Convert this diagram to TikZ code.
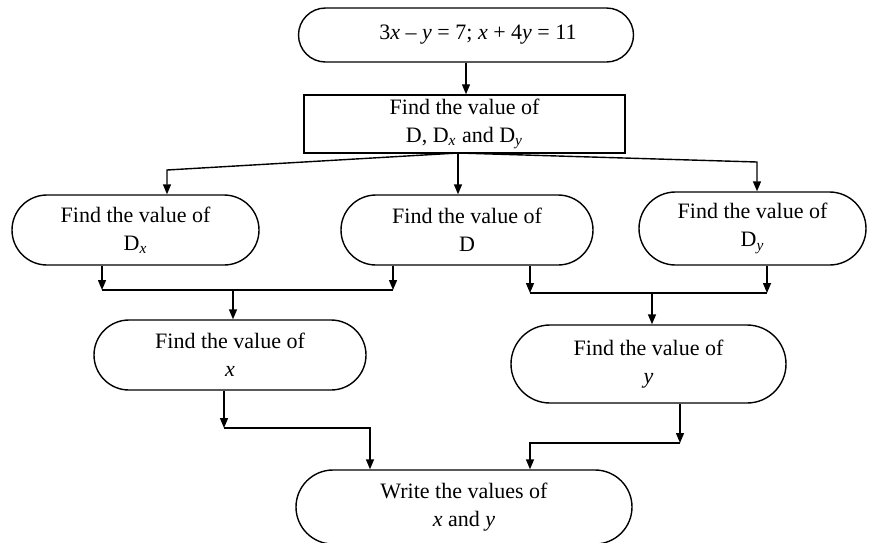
\documentclass[tikz,border=0pt]{standalone}
\usepackage{fontspec}
\setmainfont{Liberation Serif}
\usetikzlibrary{arrows.meta,shapes.misc}

\begin{document}
\begin{tikzpicture}[x=0.5pt, y=-0.5pt, line width=0.7pt,
	>={Triangle[length=5pt, width=4pt]},
	every node/.style={font=\fontsize{11}{14}\selectfont, align=center, inner sep=2pt},
	term/.style={draw, rounded rectangle},
	procbox/.style={draw, rectangle}]
	\useasboundingbox (0,0) rectangle (872,542);
	% nodes
	\node[term, minimum width=171.5pt, minimum height=27pt] (eqn) at (466,35)
		{\hspace*{12pt}3\textit{x} – \textit{y} = 7; \textit{x} + 4\textit{y} = 11};
	\node[procbox, minimum width=160.5pt, minimum height=29pt] (calc) at (464.5,124)
		{Find the value of\\ D, D\textsubscript{\textit{x}} and D\textsubscript{\textit{y}}};
	\node[term, minimum width=127.5pt, minimum height=35pt] (dx) at (135.5,230)
		{Find the value of\\ D\textsubscript{\textit{x}}};
	\node[term, minimum width=130pt, minimum height=35pt] (dd) at (467,230)
		{Find the value of\\ D};
	\node[term, minimum width=117.5pt, minimum height=36.5pt] (dy) at (752.5,228.5)
		{Find the value of\\ D\textsubscript{\textit{y}}};
	\node[term, minimum width=140pt, minimum height=35pt] (xv) at (230,355)
		{Find the value of\\ \textit{x}};
	\node[term, minimum width=141.5pt, minimum height=39pt] (yv) at (648.5,364)
		{Find the value of\\ \textit{y}};
	\node[term, minimum width=172pt, minimum height=37pt] (out) at (464,507)
		{Write the values of\\ \textit{x} and \textit{y}};
	% junction points
	\coordinate (fork) at (458,153);
	\coordinate (lbend) at (167,170);
	\coordinate (rbend) at (757,162);
	\coordinate (jl) at (102,290);
	\coordinate (jm) at (393,290);
	\coordinate (jx) at (233,290);
	\coordinate (jr1) at (530,293);
	\coordinate (jr2) at (767,293);
	\coordinate (jy) at (652,293);
	\coordinate (xa) at (224,428);
	\coordinate (xb) at (370,428);
	\coordinate (ya) at (680,443);
	\coordinate (yb) at (530,443);
	% connectors
	\draw[->] (eqn.south) -- (eqn.south |- calc.north);
	\draw[->] (fork) -- (fork |- dd.north);
	\draw[->] (fork) -- (lbend) -- (lbend |- dx.north);
	\draw[->] (fork) -- (rbend) -- (rbend |- dy.north);
	\draw[->] (jl |- dx.south) -- (jl);
	\draw[->] (jm |- dd.south) -- (jm);
	\draw (jl) -- (jm);
	\draw[->] (jx) -- (jx |- xv.north);
	\draw[->] (jr1 |- dd.south) -- (jr1);
	\draw[->] (jr2 |- dy.south) -- (jr2);
	\draw (jr1) -- (jr2);
	\draw[->] (jy) -- (jy |- yv.north);
	\draw[->] (xa |- xv.south) -- (xa);
	\draw[->] (xa) -- (xb) -- (xb |- out.north);
	\draw[->] (ya |- yv.south) -- (ya);
	\draw[->] (ya) -- (yb) -- (yb |- out.north);
\end{tikzpicture}
\end{document}
